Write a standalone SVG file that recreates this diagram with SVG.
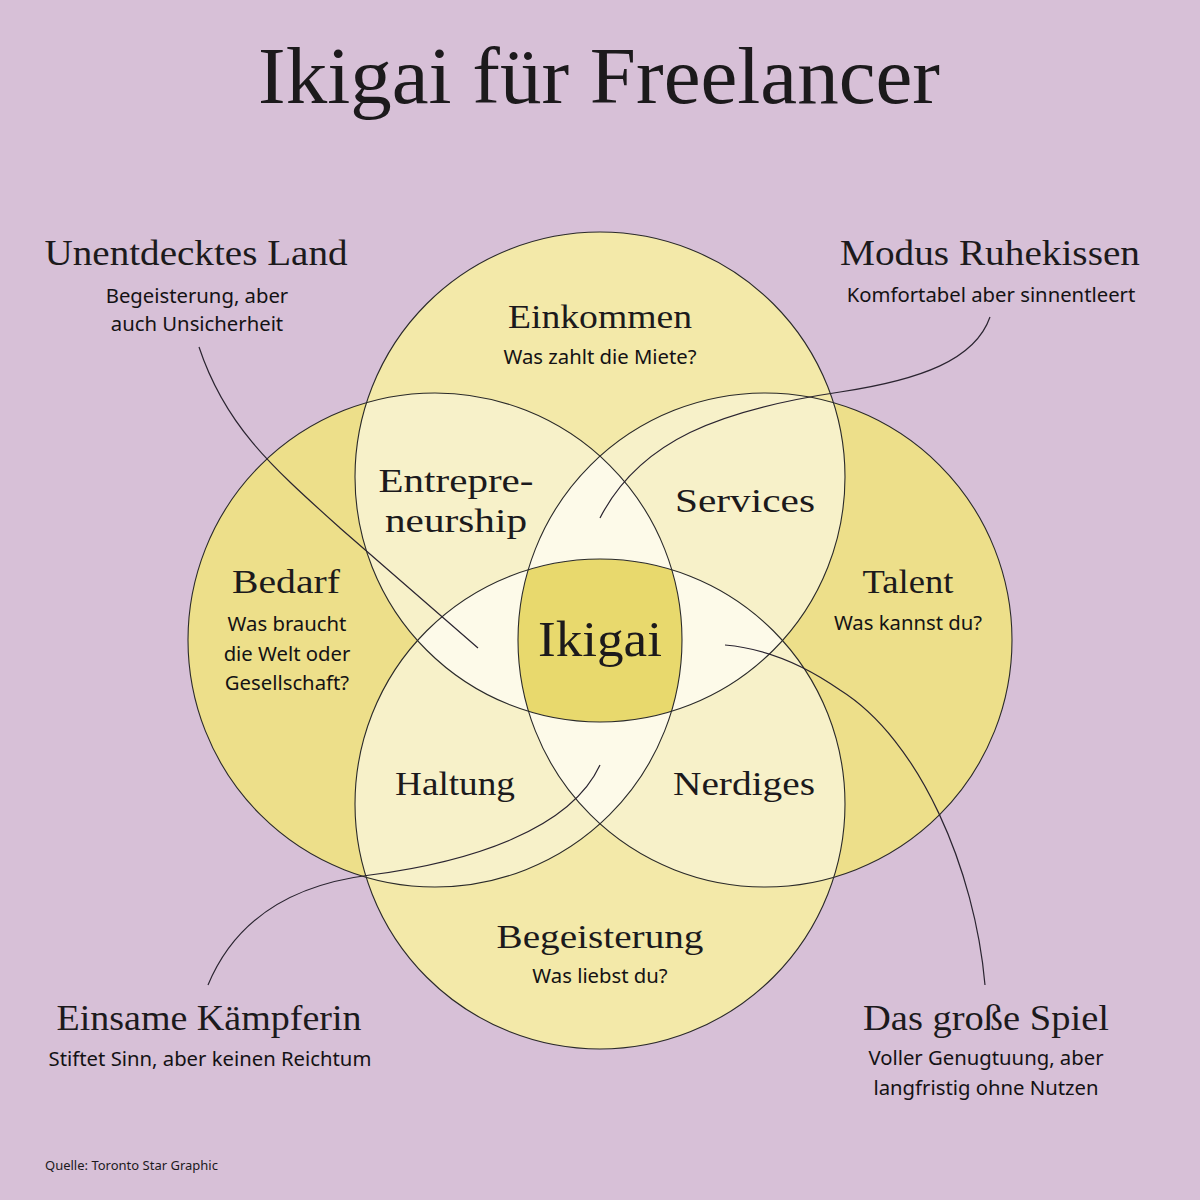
<svg xmlns="http://www.w3.org/2000/svg" width="1200" height="1200" viewBox="0 0 1200 1200">
<style>
.h{font-family:"Liberation Serif","DejaVu Serif",serif;fill:#1c1a1c;text-anchor:middle;}
.s{font-family:"Noto Sans","Open Sans",sans-serif;fill:#141214;text-anchor:middle;font-size:20.3px;}
.con{fill:none;stroke:#2a2430;stroke-width:1.2;}
.ol{fill:none;stroke:#2a2a2a;stroke-width:1.1;}
</style>
<defs>
<clipPath id="cT"><circle cx="600" cy="477" r="245"/></clipPath>
<clipPath id="cB"><circle cx="600" cy="804" r="245"/></clipPath>
<clipPath id="cL"><circle cx="435" cy="640" r="247"/></clipPath>
<clipPath id="cR"><circle cx="765" cy="640" r="247"/></clipPath>
</defs>
<rect width="1200" height="1200" fill="#d7c0d7"/>
<g id="venn">
<circle cx="600" cy="477" r="245" fill="#f3e9a9"/>
<circle cx="600" cy="804" r="245" fill="#f3e9a9"/>
<circle cx="435" cy="640" r="247" fill="#eddf8a"/>
<circle cx="765" cy="640" r="247" fill="#eddf8a"/>
<g fill="#f7f1c9">
<circle cx="600" cy="477" r="245" clip-path="url(#cL)"/>
<circle cx="600" cy="477" r="245" clip-path="url(#cR)"/>
<circle cx="600" cy="804" r="245" clip-path="url(#cL)"/>
<circle cx="600" cy="804" r="245" clip-path="url(#cR)"/>
</g>
<g fill="#fdfae9">
<circle cx="435" cy="640" r="247" clip-path="url(#cR)"/>
<circle cx="600" cy="477" r="245" clip-path="url(#cB)"/>
</g>
<g clip-path="url(#cL)"><g clip-path="url(#cR)"><circle cx="600" cy="477" r="245" clip-path="url(#cB)" fill="#e8d96d"/></g></g>
<circle class="ol" cx="600" cy="477" r="245"/>
<circle class="ol" cx="600" cy="804" r="245"/>
<circle class="ol" cx="435" cy="640" r="247"/>
<circle class="ol" cx="765" cy="640" r="247"/>
</g>
<g id="connectors">
<path class="con" d="M199,347 C225,425 270,465 340,528 L478,648"/>
<path class="con" d="M990,317 C975,360 920,380 840,392 C720,410 640,440 600,518"/>
<path class="con" d="M208,985 C235,920 290,885 370,875 C470,862 570,830 600,765"/>
<path class="con" d="M985,985 C975,870 920,740 840,690 C800,662 760,648 725,645"/>
</g>
<g id="title"><text class="h" x="599" y="103" font-size="80" textLength="682" lengthAdjust="spacingAndGlyphs">Ikigai für Freelancer</text></g>
<g id="unentdecktes">
<text class="h" x="196" y="265" font-size="36" textLength="303" lengthAdjust="spacingAndGlyphs">Unentdecktes Land</text>
<text class="s" x="197" y="303">Begeisterung, aber</text>
<text class="s" x="197" y="331">auch Unsicherheit</text>
</g>
<g id="modus">
<text class="h" x="990" y="265" font-size="36" textLength="300" lengthAdjust="spacingAndGlyphs">Modus Ruhekissen</text>
<text class="s" x="991" y="302">Komfortabel aber sinnentleert</text>
</g>
<g id="einkommen">
<text class="h" x="600" y="328" font-size="34" textLength="184" lengthAdjust="spacingAndGlyphs">Einkommen</text>
<text class="s" x="600" y="364">Was zahlt die Miete?</text>
</g>
<g id="entrepreneurship">
<text class="h" x="456" y="492" font-size="34" textLength="155" lengthAdjust="spacingAndGlyphs">Entrepre-</text>
<text class="h" x="456" y="532" font-size="34" textLength="142" lengthAdjust="spacingAndGlyphs">neurship</text>
</g>
<g id="services"><text class="h" x="745" y="512" font-size="34" textLength="140" lengthAdjust="spacingAndGlyphs">Services</text></g>
<g id="bedarf">
<text class="h" x="286" y="593" font-size="34" textLength="108" lengthAdjust="spacingAndGlyphs">Bedarf</text>
<text class="s" x="287" y="631">Was braucht</text>
<text class="s" x="287" y="661">die Welt oder</text>
<text class="s" x="287" y="690">Gesellschaft?</text>
</g>
<g id="talent">
<text class="h" x="908" y="593" font-size="34" textLength="91" lengthAdjust="spacingAndGlyphs">Talent</text>
<text class="s" x="908" y="630">Was kannst du?</text>
</g>
<g id="ikigai"><text class="h" x="600" y="656" font-size="50" textLength="124" lengthAdjust="spacingAndGlyphs">Ikigai</text></g>
<g id="haltung"><text class="h" x="455" y="795" font-size="34" textLength="120" lengthAdjust="spacingAndGlyphs">Haltung</text></g>
<g id="nerdiges"><text class="h" x="744" y="795" font-size="34" textLength="142" lengthAdjust="spacingAndGlyphs">Nerdiges</text></g>
<g id="begeisterung">
<text class="h" x="600" y="948" font-size="34" textLength="207" lengthAdjust="spacingAndGlyphs">Begeisterung</text>
<text class="s" x="600" y="983">Was liebst du?</text>
</g>
<g id="einsame">
<text class="h" x="209" y="1030" font-size="36" textLength="305" lengthAdjust="spacingAndGlyphs">Einsame Kämpferin</text>
<text class="s" x="210" y="1066">Stiftet Sinn, aber keinen Reichtum</text>
</g>
<g id="spiel">
<text class="h" x="986" y="1030" font-size="36" textLength="246" lengthAdjust="spacingAndGlyphs">Das große Spiel</text>
<text class="s" x="986" y="1065">Voller Genugtuung, aber</text>
<text class="s" x="986" y="1095">langfristig ohne Nutzen</text>
</g>
<g id="quelle"><text x="45" y="1170" font-family="Noto Sans, sans-serif" font-size="13" fill="#1c1a1c">Quelle: Toronto Star Graphic</text></g>
</svg>
